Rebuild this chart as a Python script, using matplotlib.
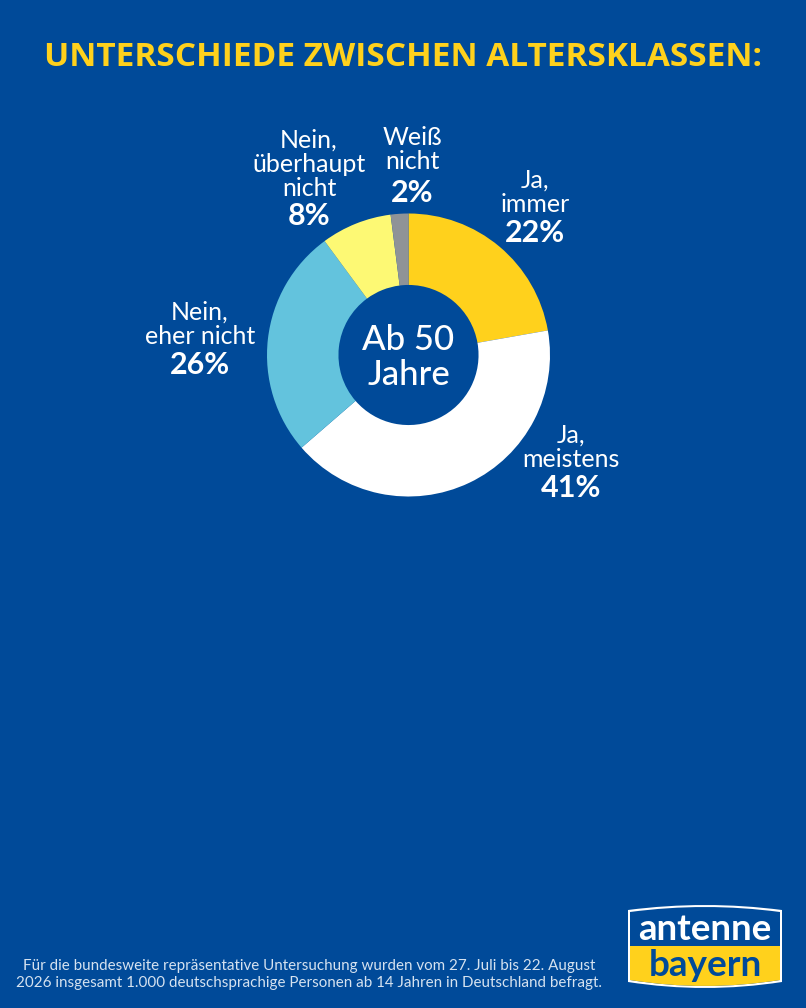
#!/usr/bin/env python3
#
# Donut chart: answers of people aged 50+ (antenne bayern poll)
#

import matplotlib
matplotlib.use('Agg')
import matplotlib.pyplot as plt
from matplotlib.path import Path
from matplotlib.patches import PathPatch

labels = ['Ja,\nimmer', 'Ja,\nmeistens', 'Nein,\neher nicht', 'Nein,\nüberhaupt\nnicht', 'Weiß\nnicht']
values = [22, 41, 26, 8, 2]
colors = ['#FFD11C', '#FFFFFF', '#63C3DD', '#FDF974', '#8F9397']

title = 'UNTERSCHIEDE ZWISCHEN ALTERSKLASSEN:'
center_text = 'Ab 50\nJahre'
footnote = ['Für die bundesweite repräsentative Untersuchung wurden vom 27. Juli bis 22. August',
            '2026 insgesamt 1.000 deutschsprachige Personen ab 14 Jahren in Deutschland befragt.']

BG = '#004A99'
W, H = 806, 1008
FONT = 'Lato'

# label anchors in pixels: centre x, bottom y of the name block, gap to the percent
label_pos = [(535, 216, 3), (571, 471, 3), (200, 348, 3), (309, 200, 2), (412, 173, 6)]

fig = plt.figure(figsize=(W / 100, H / 100), dpi=100, facecolor=BG)

# overlay in pixel coordinates for all the text and the logo
ov = fig.add_axes([0, 0, 1, 1], zorder=2)
ov.set_xlim(0, W)
ov.set_ylim(H, 0)
ov.axis('off')

# donut
cx, cy, r = 408.5, 355, 141.5
pie_ax = fig.add_axes([(cx - r) / W, 1 - (cy + r) / H, 2 * r / W, 2 * r / H], zorder=1)
pie_ax.pie(values, colors=colors, startangle=90, counterclock=False, radius=1,
           wedgeprops=dict(width=0.505, linewidth=0))
pie_ax.set_xlim(-1, 1)
pie_ax.set_ylim(-1, 1)

ov.text(cx, cy + 2.5, center_text, color='white', fontsize=25, family=FONT, fontweight='medium',
        ha='center', va='center', linespacing=1.08)

for lab, val, (x, y, gap) in zip(labels, values, label_pos):
    ov.text(x, y, lab, color='white', fontsize=18, family=FONT, ha='center',
            va='bottom', linespacing=1.06)
    ov.text(x, y + gap, '%d%%' % val, color='white', fontsize=22, family=FONT, fontweight='bold',
            ha='center', va='top')

ov.text(403.5, 58, title, color='#FFD11C', fontsize=24, family='Open Sans', fontweight='bold',
        ha='center', va='center')

ov.text(309, 966, footnote[0], color='#D5E2F0', fontsize=10.9, family=FONT,
        ha='center', va='center')
ov.text(309, 983, footnote[1], color='#D5E2F0', fontsize=10.9, family=FONT,
        ha='center', va='center')


def logo_path(x0, x1, y_top, y_edge_top, y_edge_bot, y_bot):
    xm = (x0 + x1) / 2
    verts = [(x0, y_edge_top), (xm, 2 * y_top - y_edge_top), (x1, y_edge_top),
             (x1, y_edge_bot), (xm, 2 * y_bot - y_edge_bot), (x0, y_edge_bot), (x0, y_edge_top)]
    codes = [Path.MOVETO, Path.CURVE3, Path.CURVE3, Path.LINETO, Path.CURVE3, Path.CURVE3, Path.CLOSEPOLY]
    return Path(verts, codes)


# logo
ov.add_patch(PathPatch(logo_path(628, 782, 905, 910, 982, 988), fc='white', ec='none'))
inner = logo_path(630, 780, 907, 912, 980, 986)
top = PathPatch(inner, fc=BG, ec='none')
ov.add_patch(top)
bottom = PathPatch(inner, fc='#FFD11C', ec='none')
ov.add_patch(bottom)
band = plt.Rectangle((600, 946), 206, 60, transform=ov.transData)
bottom.set_clip_path(band)
ov.text(705, 929, 'antenne', color='white', fontsize=26.4, family=FONT, fontweight='bold',
        ha='center', va='center')
ov.text(705, 966, 'bayern', color=BG, fontsize=26.6, family=FONT, fontweight='bold',
        ha='center', va='center')

fig.savefig('out.png', dpi=100, facecolor=BG)
